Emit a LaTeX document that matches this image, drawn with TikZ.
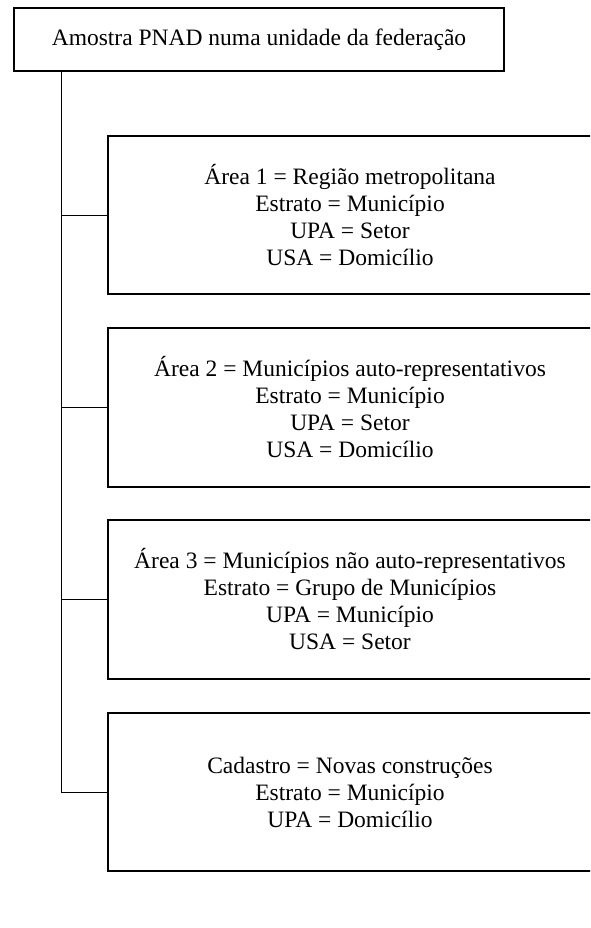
\documentclass[tikz,border=0pt]{standalone}
\usepackage{fontspec}
\setmainfont{Liberation Serif}
\begin{document}
\begin{tikzpicture}[x=1pt,y=-1pt,
  box/.style={draw, line width=1.2pt, inner sep=0pt, align=center,
    font=\fontsize{23.5}{27}\selectfont},
  link/.style={line width=0.9pt}]
\clip (0,0) rectangle (590,928);
\node[box, minimum width=490pt, minimum height=63pt] (top) at (259,39.5) {Amostra PNAD numa unidade da federação};
\node[box, minimum width=484pt, minimum height=158pt] (a1) at (350,215) {Área 1 = Região metropolitana\\Estrato = Município\\UPA = Setor\\USA = Domicílio};
\node[box, minimum width=484pt, minimum height=159pt] (a2) at (350,407.5) {Área 2 = Municípios auto-representativos\\Estrato = Município\\UPA = Setor\\USA = Domicílio};
\node[box, minimum width=484pt, minimum height=159pt] (a3) at (350,599.5) {Área 3 = Municípios não auto-representativos\\Estrato = Grupo de Municípios\\UPA = Município\\USA = Setor};
\node[box, minimum width=484pt, minimum height=158pt] (a4) at (350,792) {Cadastro = Novas construções\\Estrato = Município\\UPA = Domicílio};
\coordinate (t) at (61,71);
\draw[link] (t) |- (a4.west);
\foreach \i in {1,2,3} \draw[link] (t |- a\i.west) -- (a\i.west);
\end{tikzpicture}
\end{document}
